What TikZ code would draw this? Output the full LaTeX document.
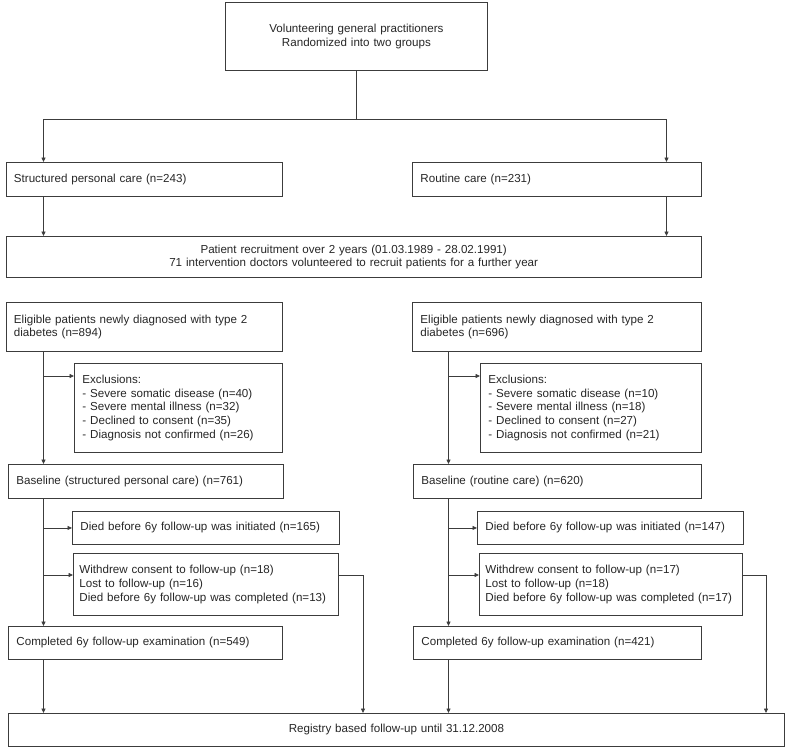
\documentclass[tikz,border=0pt]{standalone}
\usepackage{fontspec}
\setmainfont{Liberation Sans}
\usepackage{tikz}
\usetikzlibrary{arrows.meta}
\definecolor{linegray}{RGB}{60,60,60}
\tikzset{
  font={\fontsize{11.6pt}{13.7pt}\selectfont},
  flowbox/.style={draw=linegray, line width=0.9pt, anchor=north west, inner xsep=8pt, inner ysep=0pt, align=left, text=black!85},
  midbox/.style={flowbox, align=center},
  arr/.style={draw=linegray, line width=0.8pt, -{Triangle[length=4.5pt,width=4pt]}},
  link/.style={draw=linegray, line width=0.8pt}}

\begin{document}
\begin{tikzpicture}[x=1pt,y=1pt]
\useasboundingbox (0,0) rectangle (792,-750);
\node [midbox, text width=246pt, minimum height=68pt] (top) at (225,-2) {Volunteering general practitioners\\Randomized into two groups};
\node [flowbox, text width=260.5pt, minimum height=34pt] (spc) at (5.5,-162) {Structured personal care (n=243)};
\node [flowbox, text width=273pt, minimum height=34pt] (rc) at (412,-162) {Routine care (n=231)};
\node [midbox, text width=679.5pt, minimum height=41pt] (recruit) at (5.5,-236) {Patient recruitment over 2 years (01.03.1989 - 28.02.1991)\\71 intervention doctors volunteered to recruit patients for a further year};
\node [flowbox, text width=260.5pt, minimum height=49pt] (eligA) at (5.5,-302) {Eligible patients newly diagnosed with type 2\\diabetes (n=894)};
\node [flowbox, text width=273pt, minimum height=49pt] (eligB) at (412,-302) {Eligible patients newly diagnosed with type 2\\diabetes (n=696)};
\node [flowbox, text width=192pt, minimum height=89pt] (exclA) at (74,-363) {Exclusions:\\- Severe somatic disease (n=40)\\- Severe mental illness (n=32)\\- Declined to consent (n=35)\\- Diagnosis not confirmed (n=26)};
\node [flowbox, text width=205pt, minimum height=89pt] (exclB) at (480,-363) {Exclusions:\\- Severe somatic disease (n=10)\\- Severe mental illness (n=18)\\- Declined to consent (n=27)\\- Diagnosis not confirmed (n=21)};
\node [flowbox, text width=259pt, minimum height=34pt] (baseA) at (8,-464) {Baseline (structured personal care) (n=761)};
\node [flowbox, text width=272pt, minimum height=34pt] (baseB) at (413,-464) {Baseline (routine care) (n=620)};
\node [flowbox, text width=251pt, minimum height=33pt] (diedA) at (72,-511) {Died before 6y follow-up was initiated (n=165)};
\node [flowbox, text width=250pt, minimum height=33pt] (diedB) at (477,-511) {Died before 6y follow-up was initiated (n=147)};
\node [flowbox, text width=253pt, inner xsep=6pt, minimum height=62pt] (wdA) at (73,-553) {Withdrew consent to follow-up (n=18)\\Lost to follow-up (n=16)\\Died before 6y follow-up was completed (n=13)};
\node [flowbox, text width=251pt, inner xsep=6pt, minimum height=62pt] (wdB) at (479,-553) {Withdrew consent to follow-up (n=17)\\Lost to follow-up (n=18)\\Died before 6y follow-up was completed (n=17)};
\node [flowbox, text width=258pt, minimum height=33pt] (compA) at (8,-626) {Completed 6y follow-up examination (n=549)};
\node [flowbox, text width=272pt, minimum height=33pt] (compB) at (413,-626) {Completed 6y follow-up examination (n=421)};
\node [midbox, text width=760pt, minimum height=33pt] (reg) at (8,-713) {Registry based follow-up until 31.12.2008};
\coordinate (trunkA) at (43.5,0);
\coordinate (trunkB) at (448.5,0);
\coordinate (topR) at (666.5,0);
\coordinate (outA) at (363,0);
\coordinate (outB) at (766,0);
\coordinate (fork) at (0,-119);
\coordinate (inExclA) at ([yshift=-13pt]exclA.north west);
\coordinate (inExclB) at ([yshift=-13pt]exclB.north west);
\coordinate (inWdA) at ([yshift=-22pt]wdA.north west);
\coordinate (inWdB) at ([yshift=-22pt]wdB.north west);
\coordinate (exWdA) at ([yshift=-22pt]wdA.north east);
\coordinate (exWdB) at ([yshift=-22pt]wdB.north east);
\draw [link] (top.south) -- (top.south |- fork);
\draw [arr] (top.south |- fork) -| (spc.north -| trunkA);
\draw [arr] (top.south |- fork) -| (rc.north -| topR);
\draw [arr] (spc.south -| trunkA) -- (recruit.north -| trunkA);
\draw [arr] (rc.south -| topR) -- (recruit.north -| topR);
\draw [arr] (eligA.south -| trunkA) -- (baseA.north -| trunkA);
\draw [arr] (eligB.south -| trunkB) -- (baseB.north -| trunkB);
\draw [arr] (inExclA -| trunkA) -- (inExclA);
\draw [arr] (inExclB -| trunkB) -- (inExclB);
\draw [arr] (baseA.south -| trunkA) -- (compA.north -| trunkA);
\draw [arr] (baseB.south -| trunkB) -- (compB.north -| trunkB);
\draw [arr] (diedA.west -| trunkA) -- (diedA.west);
\draw [arr] (diedB.west -| trunkB) -- (diedB.west);
\draw [arr] (inWdA -| trunkA) -- (inWdA);
\draw [arr] (inWdB -| trunkB) -- (inWdB);
\draw [arr] (compA.south -| trunkA) -- (reg.north -| trunkA);
\draw [arr] (compB.south -| trunkB) -- (reg.north -| trunkB);
\draw [arr] (exWdA) -| (reg.north -| outA);
\draw [arr] (exWdB) -| (reg.north -| outB);
\end{tikzpicture}
\end{document}
